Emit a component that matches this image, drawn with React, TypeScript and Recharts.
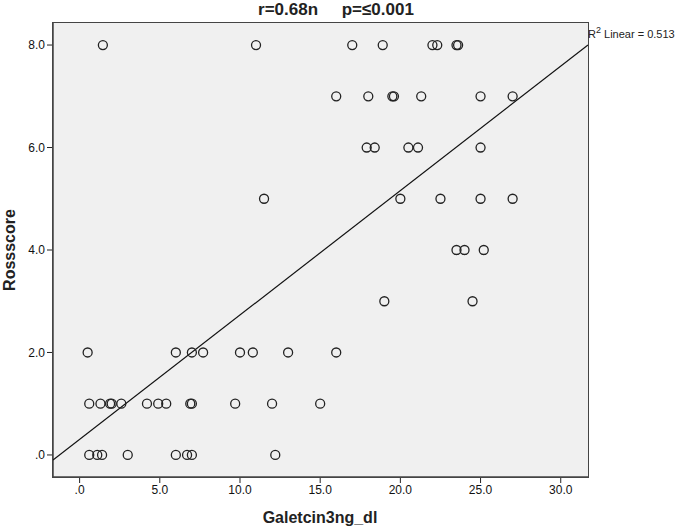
import React from 'react';
import { ScatterChart, Scatter, XAxis, YAxis, CartesianGrid } from 'recharts';

// Galectin-3 (ng/dl) vs Ross score
const galectin = [
  1.45, 11.0, 17.0, 18.9, 22.0, 22.3, 23.5, 23.6,
  16.0, 18.0, 19.5, 19.6, 21.3, 25.0, 27.0,
  17.9, 18.4, 20.5, 21.1, 25.0,
  11.5, 20.0, 22.5, 25.0, 27.0,
  23.5, 24.0, 25.2,
  19.0, 24.5,
  0.5, 6.0, 7.0, 7.7, 10.0, 10.8, 13.0, 16.0,
  0.6, 1.3, 1.9, 2.0, 2.6, 4.2, 4.9, 5.4, 6.9, 7.0, 9.7, 12.0, 15.0,
  0.6, 1.1, 1.4, 3.0, 6.0, 6.7, 7.0, 12.2,
];
const rossScore = [
  8, 8, 8, 8, 8, 8, 8, 8,
  7, 7, 7, 7, 7, 7, 7,
  6, 6, 6, 6, 6,
  5, 5, 5, 5, 5,
  4, 4, 4,
  3, 3,
  2, 2, 2, 2, 2, 2, 2, 2,
  1, 1, 1, 1, 1, 1, 1, 1, 1, 1, 1, 1, 1,
  0, 0, 0, 0, 0, 0, 0, 0,
];

const xTicks = [0, 5, 10, 15, 20, 25, 30];
const yTicks = [0, 2, 4, 6, 8];
const xDomain = [-1.66, 31.7];
const yDomain = [-0.43, 8.43];

// linear fit as drawn (R2 = 0.513)
const fitIntercept = 0.303;
const fitSlope = 0.2428;
const rSquared = 0.513;

const points = galectin.map((x, i) => ({ x, y: rossScore[i] }));
const fitData = xDomain.map((x) => ({ x, y: fitIntercept + fitSlope * x }));

const W = 685;
const H = 531;
const margin = { top: 23, right: 97, bottom: 0, left: 0 };
const yAxisW = 53;
const xAxisH = 54;

const font = 'Arial, "Liberation Sans", sans-serif';
const fmt = (v: number) => (v === 0 ? '.0' : v.toFixed(1));
const tickStyle = { fontSize: 12, fill: '#111', fontFamily: font };
const axisLine = { stroke: '#444', strokeWidth: 1.5 };

const Ring = (props: any) => (
  <circle cx={props.cx} cy={props.cy} r={4.5} fill="none" stroke="#222" strokeWidth={1.3} />
);

const App = () => {
  const plotLeft = margin.left + yAxisW;
  const plotTop = margin.top;
  const plotW = W - plotLeft - margin.right;
  const plotH = H - plotTop - margin.bottom - xAxisH;
  return (
    <div style={{ position: 'absolute', left: 0, top: 0, width: W, height: H, background: '#fff', fontFamily: font }}>
      <ScatterChart width={W} height={H} margin={margin}>
        <CartesianGrid fill="#f0f0f0" horizontal={false} vertical={false} />
        <XAxis
          type="number"
          dataKey="x"
          domain={xDomain}
          ticks={xTicks}
          allowDataOverflow
          tickFormatter={fmt}
          height={xAxisH}
          tickSize={6}
          tick={tickStyle}
          axisLine={axisLine}
          tickLine={{ stroke: '#222' }}
        />
        <YAxis
          type="number"
          dataKey="y"
          domain={yDomain}
          ticks={yTicks}
          allowDataOverflow
          tickFormatter={fmt}
          width={yAxisW}
          tickSize={6}
          tick={tickStyle}
          axisLine={axisLine}
          tickLine={{ stroke: '#222' }}
        />
        <Scatter
          data={fitData}
          line={{ stroke: '#111', strokeWidth: 1.2 }}
          shape={() => <g />}
          isAnimationActive={false}
        />
        <Scatter data={points} shape={Ring} isAnimationActive={false} />
      </ScatterChart>

      {/* frame round the plot area */}
      <div
        style={{
          position: 'absolute',
          left: plotLeft - 0.75,
          top: plotTop - 0.75,
          width: plotW + 1.5,
          height: plotH + 1.5,
          boxSizing: 'border-box',
          border: '1.5px solid #444',
          pointerEvents: 'none',
        }}
      />

      <div style={{ position: 'absolute', left: 236, top: 0, width: 200, textAlign: 'center', fontSize: 17, fontWeight: 'bold', color: '#222', whiteSpace: 'pre' }}>
        {'r=0.68n     p=\u22640.001'}
      </div>
      <div style={{ position: 'absolute', left: 588, top: 25, fontSize: 11, color: '#222', whiteSpace: 'pre' }}>
        R<sup style={{ fontSize: 9 }}>2</sup> Linear = {rSquared}
      </div>
      <div style={{ position: 'absolute', left: 220, top: 509, width: 200, textAlign: 'center', fontSize: 16, fontWeight: 'bold', color: '#222' }}>
        Galetcin3ng_dl
      </div>
      <div
        style={{
          position: 'absolute',
          left: 10,
          top: 250,
          transform: 'translate(-50%, -50%) rotate(-90deg)',
          fontSize: 16,
          fontWeight: 'bold',
          color: '#222',
        }}
      >
        Rossscore
      </div>
    </div>
  );
};

export default App;
